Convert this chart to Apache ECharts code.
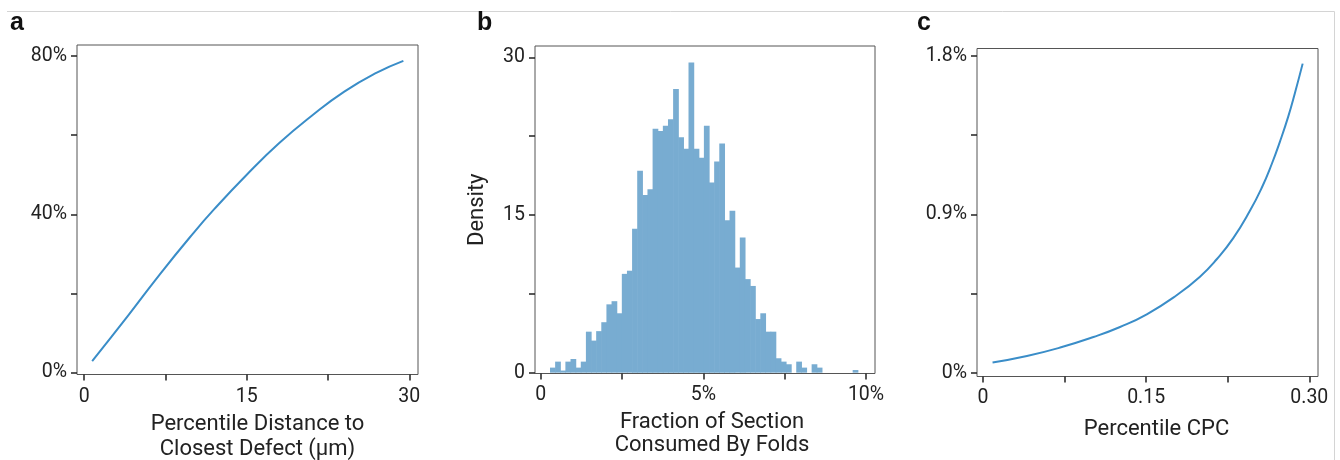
<!DOCTYPE html>
<html>
<head>
<meta charset="utf-8">
<script src="https://cdn.jsdelivr.net/npm/echarts@6/dist/echarts.min.js"></script>
<style>
html,body{margin:0;padding:0;background:#fff;}
#chart{width:1340px;height:460px;}
</style>
</head>
<body>
<div id="chart"></div>
<script>
// ---- Panel a: Percentile distance to closest defect (µm) vs percent ----
const distanceX = [0.74, 4, 7, 10, 12, 15, 18, 21, 24, 27, 29.45];
const distanceY = [2.9, 14.2, 24.9, 35.0, 41.3, 50.0, 58.0, 64.9, 71.0, 75.8, 78.8];
const aXTicks = [0, 7.5, 15, 22.5, 30];
const aXLabels = [0, 15, 30];
const aYTicks = [0, 20, 40, 60, 80];
const aYLabels = [0, 40, 80];

// ---- Panel b: histogram of fraction of section consumed by folds (%) ----
const histStart = 0.286;      // left edge of first bin (%)
const histBinWidth = 0.1577;  // bin width (%)
const densityValues = [0.48, 1.05, 0.2, 1.05, 1.3, 0.48, 1.05,
  3.9, 3.05, 3.95, 4.8, 6.5, 6.8, 5.65,
  9.4, 9.7, 13.7, 19.2, 16.9, 17.45,
  23.2, 23.0, 23.5, 24.1, 27.0, 22.4, 21.3, 29.5, 21.3, 20.45, 23.5,
  18.1, 20.1, 21.8, 14.5, 15.4, 10.0, 12.85, 8.9, 8.25, 5.1, 5.65, 3.9, 3.9,
  1.37, 1.05, 0.8, 0, 1.05, 0.48, 0, 0.8, 0.48,
  0, 0, 0, 0, 0, 0, 0.25];
const bXTicks = [0, 2.5, 5, 7.5, 10];
const bXLabels = [0, 5, 10];
const bYTicks = [0, 7.5, 15, 22.5, 30];
const bYLabels = [0, 15, 30];

// ---- Panel c: Percentile CPC vs percent ----
const cpcX = [0.0088, 0.0404, 0.071, 0.1016, 0.126, 0.1506, 0.178, 0.1995, 0.2149, 0.2301, 0.2454, 0.2562, 0.2654, 0.2731, 0.2807, 0.2868, 0.2939];
const cpcY = [0.058, 0.095, 0.143, 0.203, 0.260, 0.332, 0.440, 0.546, 0.645, 0.765, 0.920, 1.050, 1.185, 1.315, 1.457, 1.590, 1.757];
const cXTicks = [0, 0.075, 0.15, 0.225, 0.30];
const cXLabels = [0, 0.15, 0.30];
const cYTicks = [0, 0.45, 0.9, 1.35, 1.8];
const cYLabels = [0, 0.9, 1.8];

const FONT = 'Roboto';
const TXT = '#222';
const LINE_COLOR = '#3a8dc8';
const HIST_COLOR = '#78acd1';

const tickStyle = (vals) => ({show: true, inside: false, length: 6, customValues: vals,
  lineStyle: {color: '#222', width: 1.5}});
const labelStyle = (vals, fmt, margin) => ({show: true, customValues: vals, formatter: fmt,
  fontFamily: FONT, fontSize: 19.5, color: TXT, margin: margin});
const nameStyle = (pad) => ({fontFamily: FONT, fontSize: 22, color: TXT, lineHeight: 25, padding: pad});

const chart = echarts.init(document.getElementById('chart'), null, {renderer: 'canvas'});

const histData = densityValues.map((h, i) => [histStart + i * histBinWidth, histStart + (i + 1) * histBinWidth, h]);

const gridBase = {show: true, borderColor: '#555', borderWidth: 1, containLabel: false, outerBoundsMode: 'none'};

const option = {
  animation: false,
  backgroundColor: '#fff',
  grid: [
    Object.assign({left: 77, top: 45, width: 341, height: 329.5}, gridBase),
    Object.assign({left: 535, top: 46, width: 340, height: 327.5}, gridBase),
    Object.assign({left: 977, top: 48.5, width: 341, height: 328}, gridBase)
  ],
  xAxis: [
    {type: 'value', gridIndex: 0, min: -0.66, max: 30.8, splitLine: {show: false}, axisLine: {show: false, onZero: false},
     axisTick: tickStyle(aXTicks), axisLabel: labelStyle(aXLabels, v => String(v), 13),
     name: 'Percentile Distance to\nClosest Defect (μm)', nameLocation: 'middle', nameGap: 37,
     nameTextStyle: nameStyle([0, 0, 0, 20])},
    {type: 'value', gridIndex: 1, min: -0.175, max: 10.277, splitLine: {show: false}, axisLine: {show: false, onZero: false},
     axisTick: tickStyle(bXTicks), axisLabel: labelStyle(bXLabels, v => v === 0 ? '0' : v + '%', 12),
     name: 'Fraction of Section\nConsumed By Folds', nameLocation: 'middle', nameGap: 32,
     nameTextStyle: Object.assign(nameStyle([0, 0, 0, 14]), {lineHeight: 23.5})},
    {type: 'value', gridIndex: 2, min: -0.0055, max: 0.308, splitLine: {show: false}, axisLine: {show: false, onZero: false},
     axisTick: tickStyle(cXTicks), axisLabel: labelStyle(cXLabels, v => v === 0 ? '0' : v.toFixed(2), 12),
     name: 'Percentile CPC', nameLocation: 'middle', nameGap: 40,
     nameTextStyle: nameStyle([0, 0, 0, 18])}
  ],
  yAxis: [
    {type: 'value', gridIndex: 0, min: -0.5, max: 82.8, splitLine: {show: false}, axisLine: {show: false, onZero: false},
     axisTick: tickStyle(aYTicks), axisLabel: labelStyle(aYLabels, v => v + '%', 10)},
    {type: 'value', gridIndex: 1, min: -0.08, max: 31.08, splitLine: {show: false}, axisLine: {show: false, onZero: false},
     axisTick: tickStyle(bYTicks), axisLabel: labelStyle(bYLabels, v => String(v), 10),
     name: 'Density', nameLocation: 'middle', nameGap: 47,
     nameTextStyle: {fontFamily: FONT, fontSize: 22, color: TXT}},
    {type: 'value', gridIndex: 2, min: -0.0216, max: 1.843, splitLine: {show: false}, axisLine: {show: false, onZero: false},
     axisTick: tickStyle(cYTicks), axisLabel: labelStyle(cYLabels, v => v === 0 ? '0%' : v.toFixed(1) + '%', 10)}
  ],
  series: [
    {type: 'line', xAxisIndex: 0, yAxisIndex: 0, data: distanceX.map((x, i) => [x, distanceY[i]]),
     smooth: 0.5, showSymbol: false, lineStyle: {color: LINE_COLOR, width: 2}},
    {type: 'custom', xAxisIndex: 1, yAxisIndex: 1, data: histData,
     encode: {x: [0, 1], y: 2},
     renderItem: function (params, api) {
       const p0 = api.coord([api.value(0), api.value(2)]);
       const p1 = api.coord([api.value(1), 0]);
       return {type: 'rect', shape: {x: p0[0], y: p0[1], width: p1[0] - p0[0] + 0.6, height: p1[1] - p0[1]},
         style: {fill: HIST_COLOR}};
     }},
    {type: 'line', xAxisIndex: 2, yAxisIndex: 2, data: cpcX.map((x, i) => [x, cpcY[i]]),
     smooth: 0.5, showSymbol: false, lineStyle: {color: LINE_COLOR, width: 2}}
  ],
  graphic: [
    {type: 'line', shape: {x1: 7, y1: 11.5, x2: 1334.5, y2: 11.5}, style: {stroke: '#d4d4d4', lineWidth: 1}},
    {type: 'line', shape: {x1: 1334.5, y1: 11.5, x2: 1334.5, y2: 460}, style: {stroke: '#d4d4d4', lineWidth: 1}},
    {type: 'text', left: 10, top: 11, style: {text: 'a', font: 'bold 25px "Liberation Sans", Arial, sans-serif', fill: '#111'}},
    {type: 'text', left: 477, top: 11, style: {text: 'b', font: 'bold 25px "Liberation Sans", Arial, sans-serif', fill: '#111'}},
    {type: 'text', left: 917, top: 11, style: {text: 'c', font: 'bold 25px "Liberation Sans", Arial, sans-serif', fill: '#111'}}
  ]
};
chart.setOption(option);
</script>
</body>
</html>
